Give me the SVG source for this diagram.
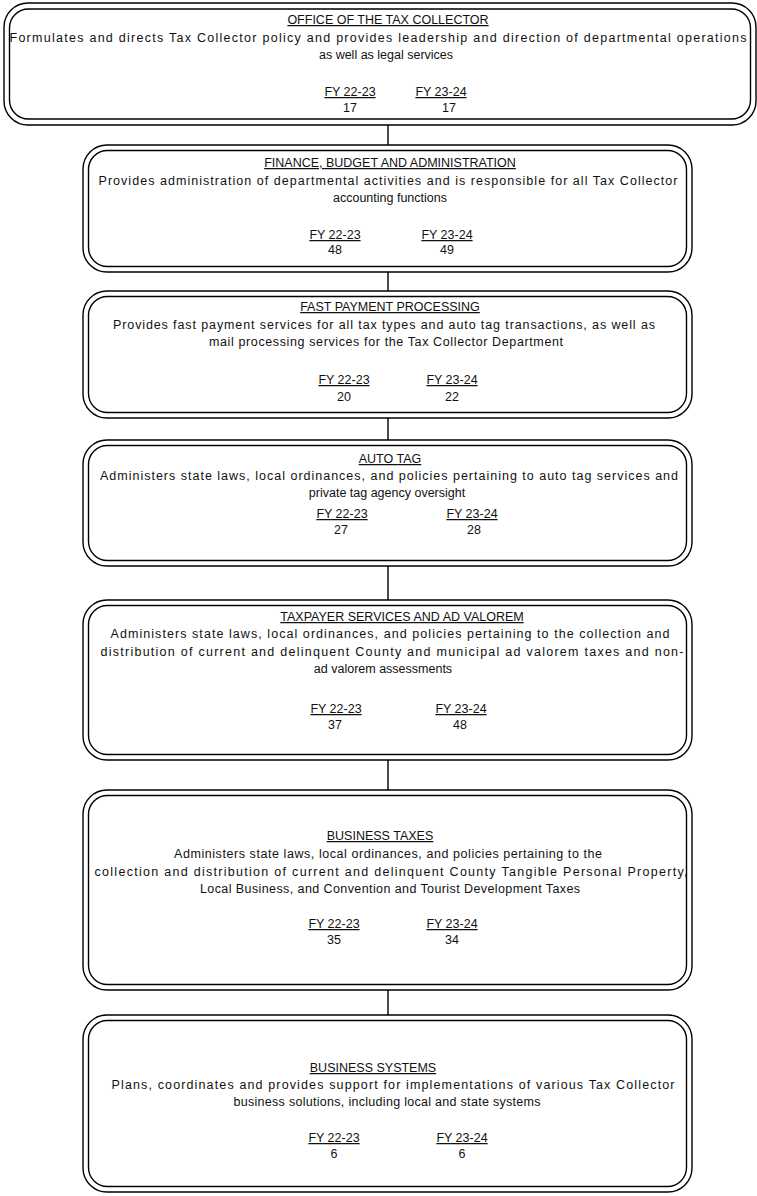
<svg xmlns="http://www.w3.org/2000/svg" width="757" height="1196" viewBox="0 0 757 1196">
<style>
.o{fill:#fff;stroke:#000;stroke-width:1.4}
.i{fill:none;stroke:#000;stroke-width:1.4}
.c{stroke:#000;stroke-width:1.4;fill:none}
text{font-family:"Liberation Sans",Arial,sans-serif;font-size:12.5px;fill:#111;text-anchor:middle}
.u{text-decoration:underline}
</style>
<rect width="757" height="1196" fill="#fff"/>
<g id="connectors">
<line class="c" x1="388" y1="125" x2="388" y2="145"/>
<line class="c" x1="388" y1="272" x2="388" y2="291"/>
<line class="c" x1="388" y1="418" x2="388" y2="440"/>
<line class="c" x1="388" y1="566" x2="388" y2="600"/>
<line class="c" x1="388" y1="760" x2="388" y2="790"/>
<line class="c" x1="388" y1="990" x2="388" y2="1015"/>
</g>
<g id="office">
<rect class="o" x="4" y="3" width="752" height="122" rx="24"/>
<rect class="i" x="9.5" y="9" width="741" height="110" rx="19"/>
<text class="u" x="388" y="24">OFFICE OF THE TAX COLLECTOR</text>
<text x="378" y="42" textLength="737" lengthAdjust="spacing">Formulates and directs Tax Collector policy and provides leadership and direction of departmental operations</text>
<text x="386" y="59">as well as legal services</text>
<text class="u" x="350" y="96">FY 22-23</text>
<text class="u" x="441" y="96">FY 23-24</text>
<text x="350" y="112">17</text>
<text x="449" y="112">17</text>
</g>
<g id="finance">
<rect class="o" x="83" y="145" width="609" height="127" rx="24"/>
<rect class="i" x="88.5" y="150.5" width="598" height="116" rx="19"/>
<text class="u" x="390" y="167">FINANCE, BUDGET AND ADMINISTRATION</text>
<text x="388" y="185" textLength="579" lengthAdjust="spacing">Provides administration of departmental activities and is responsible for all Tax Collector</text>
<text x="390" y="202">accounting functions</text>
<text class="u" x="335" y="239">FY 22-23</text>
<text class="u" x="447" y="239">FY 23-24</text>
<text x="335" y="254">48</text>
<text x="447" y="254">49</text>
</g>
<g id="fast-payment">
<rect class="o" x="83" y="291" width="609" height="127" rx="24"/>
<rect class="i" x="88.5" y="296.5" width="598" height="116" rx="19"/>
<text class="u" x="390" y="311">FAST PAYMENT PROCESSING</text>
<text x="384" y="329" textLength="542" lengthAdjust="spacing">Provides fast payment services for all tax types and auto tag transactions, as well as</text>
<text x="386" y="346" textLength="354" lengthAdjust="spacing">mail processing services for the Tax Collector Department</text>
<text class="u" x="344" y="384">FY 22-23</text>
<text class="u" x="452" y="384">FY 23-24</text>
<text x="344" y="401">20</text>
<text x="452" y="401">22</text>
</g>
<g id="auto-tag">
<rect class="o" x="83" y="440" width="609" height="126" rx="24"/>
<rect class="i" x="88.5" y="445.5" width="598" height="115" rx="19"/>
<text class="u" x="390" y="463">AUTO TAG</text>
<text x="389" y="480" textLength="578" lengthAdjust="spacing">Administers state laws, local ordinances, and policies pertaining to auto tag services and</text>
<text x="387" y="497">private tag agency oversight</text>
<text class="u" x="342" y="518">FY 22-23</text>
<text class="u" x="472" y="518"> FY 23-24</text>
<text x="341" y="534">27</text>
<text x="474" y="534">28</text>
</g>
<g id="taxpayer-services">
<rect class="o" x="83" y="600" width="609" height="160" rx="24"/>
<rect class="i" x="88.5" y="605.5" width="598" height="149" rx="19"/>
<text class="u" x="402" y="621">TAXPAYER SERVICES AND AD VALOREM</text>
<text x="390" y="638" textLength="559" lengthAdjust="spacing">Administers state laws, local ordinances, and policies pertaining to the collection and</text>
<text x="392" y="656" textLength="583" lengthAdjust="spacing">distribution of current and delinquent County and municipal ad valorem taxes and non-</text>
<text x="383" y="673">ad valorem assessments</text>
<text class="u" x="336" y="713">FY 22-23</text>
<text class="u" x="461" y="713">FY 23-24</text>
<text x="335" y="729">37</text>
<text x="460" y="729">48</text>
</g>
<g id="business-taxes">
<rect class="o" x="83" y="790" width="609" height="200" rx="24"/>
<rect class="i" x="88.5" y="795.5" width="598" height="189" rx="19"/>
<text class="u" x="380" y="840">BUSINESS TAXES</text>
<text x="388" y="858" textLength="428" lengthAdjust="spacing">Administers state laws, local ordinances, and policies pertaining to the</text>
<text x="391" y="876" textLength="593" lengthAdjust="spacing">collection and distribution of current and delinquent County Tangible Personal Property,</text>
<text x="390" y="893" textLength="380" lengthAdjust="spacing">Local Business, and Convention and Tourist Development Taxes</text>
<text class="u" x="334" y="928">FY 22-23</text>
<text class="u" x="452" y="928">FY 23-24</text>
<text x="334" y="944">35</text>
<text x="452" y="944">34</text>
</g>
<g id="business-systems">
<rect class="o" x="83" y="1015" width="609" height="177" rx="24"/>
<rect class="i" x="88.5" y="1020.5" width="598" height="166" rx="19"/>
<text class="u" x="373" y="1072">BUSINESS SYSTEMS</text>
<text x="393" y="1089" textLength="563" lengthAdjust="spacing">Plans, coordinates and provides support for implementations of various Tax Collector</text>
<text x="387" y="1106" textLength="307" lengthAdjust="spacing">business solutions, including local and state systems</text>
<text class="u" x="334" y="1142">FY 22-23</text>
<text class="u" x="462" y="1142">FY 23-24</text>
<text x="334" y="1158">6</text>
<text x="462" y="1158">6</text>
</g>
</svg>
